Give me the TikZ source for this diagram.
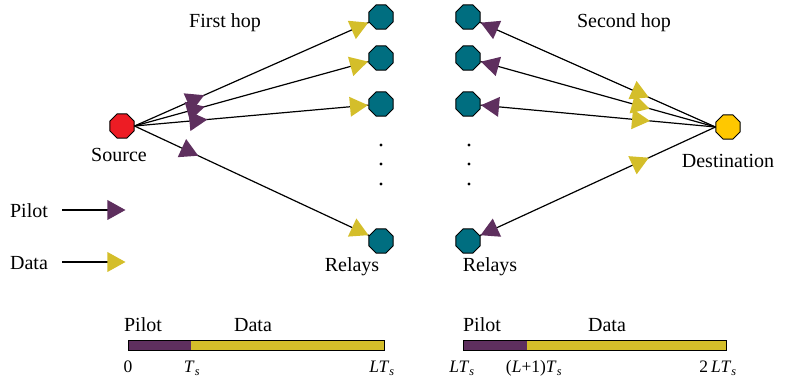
\documentclass[tikz,border=0pt]{standalone}
\usepackage{fontspec}
\setmainfont{Liberation Serif}
\usetikzlibrary{shapes.geometric}

\definecolor{pilotC}{RGB}{94,47,94}
\definecolor{dataC}{RGB}{212,190,42}
\definecolor{relayC}{RGB}{0,110,128}
\definecolor{srcC}{RGB}{237,28,36}
\definecolor{dstC}{RGB}{255,200,0}

\newcommand{\subs}{\textsubscript{\textit{s}}}

\tikzset{
  octo/.style={regular polygon, regular polygon sides=8, minimum size=26pt,
    inner sep=0pt, draw=black, line width=1pt, fill=#1},
  link/.style={draw=black, line width=1.2pt},
  tri/.style={isosceles triangle, isosceles triangle stretches, inner sep=0pt,
    minimum width=20pt, minimum height=18pt, sloped, allow upside down,
    draw=none, fill=#1},
  lbl/.style={font=\fontsize{20}{23}\selectfont, anchor=base, inner sep=0pt},
  tick/.style={font=\fontsize{17.5}{20}\selectfont, anchor=base, inner sep=0pt},
  dot/.style={circle, fill=black, inner sep=0pt, minimum size=3.2pt}
}

\begin{document}
\begin{tikzpicture}[x=1pt, y=-1pt]
\useasboundingbox (0,0) rectangle (785,379);

% terminals
\node[octo=srcC] (s) at (122,126) {};
\node[octo=dstC] (d) at (728,127) {};

% relays, first hop side
\node[octo=relayC] (r1) at (381,17) {};
\node[octo=relayC] (r2) at (381,58) {};
\node[octo=relayC] (r3) at (381,104) {};
\node[octo=relayC] (r4) at (381,241) {};

% relays, second hop side
\node[octo=relayC] (q1) at (468,17) {};
\node[octo=relayC] (q2) at (468,58) {};
\node[octo=relayC] (q3) at (468,104) {};
\node[octo=relayC] (q4) at (468,241) {};

% vertical ellipses between relays
\foreach \yy in {145,164,184} {
  \node[dot] at (381,\yy) {};
  \node[dot] at (469,\yy) {};
}

% first hop links: pilot near the source, data at the relay
\foreach \r/\p in {r1/0.25, r2/0.25, r3/0.26, r4/0.225} {
  \draw[link] (s.east) -- (\r);
  \path (s.east) -- (\r) node[tri=pilotC, pos=\p] {};
  \path (s.east) -- (\r) node[tri=dataC, pos=1, anchor=apex] {};
}

% second hop links: pilot at the relay, data towards the destination
\foreach \r in {q1,q2,q3,q4} {
  \draw[link] (\r) -- (d.west);
  \path (\r) -- (d.west) node[tri=dataC, pos=0.67] {};
  \path (d.west) -- (\r) node[tri=pilotC, pos=1, anchor=apex] {};
}

% labels
\node[lbl] (h1) at (225,28) {First hop};
\node[lbl] (h2) at (624,28) {Second hop};
\node[lbl] (ls) at (119,162) {Source};
\node[lbl] (ld) at (728,168) {Destination};
\node[lbl] (lr1) at (352,272) {Relays};
\node[lbl] (lr2) at (490,272) {Relays};

% legend
\node[lbl] (kp) at (29,218) {Pilot};
\node[lbl] (kd) at (29,270) {Data};
\coordinate (kp0) at (62,210);
\coordinate (kpm) at (112,210);
\coordinate (kp1) at (126,210);
\coordinate (kd0) at (62,262);
\coordinate (kdm) at (112,262);
\coordinate (kd1) at (126,262);
\draw[link] (kp0) -- (kpm);
\path (kp0) -- (kp1) node[tri=pilotC, pos=1, anchor=apex] {};
\draw[link] (kd0) -- (kdm);
\path (kd0) -- (kd1) node[tri=dataC, pos=1, anchor=apex] {};

% frame of the first hop
\fill[pilotC] (128,341) rectangle (191,351);
\fill[dataC] (191,341) rectangle (384,351);
\draw[line width=1pt] (128,341) rectangle (384,351);
\node[lbl] (bp1) at (143,332) {Pilot};
\node[lbl] (bd1) at (253,332) {Data};
\node[tick] at (128,373) {0};
\node[tick] at (192,373) {\textit{T}\subs};
\node[tick] at (382,373) {\textit{LT}\subs};

% frame of the second hop
\fill[pilotC] (463,341) rectangle (527,351);
\fill[dataC] (527,341) rectangle (726,351);
\draw[line width=1pt] (463,341) rectangle (726,351);
\node[lbl] (bp2) at (482,332) {Pilot};
\node[lbl] (bd2) at (607,332) {Data};
\node[tick] at (462,373) {\textit{LT}\subs};
\node[tick] at (534,373) {(\textit{L}+1)\textit{T}\subs};
\node[tick] at (718,373) {2\,\textit{LT}\subs};
\end{tikzpicture}
\end{document}
